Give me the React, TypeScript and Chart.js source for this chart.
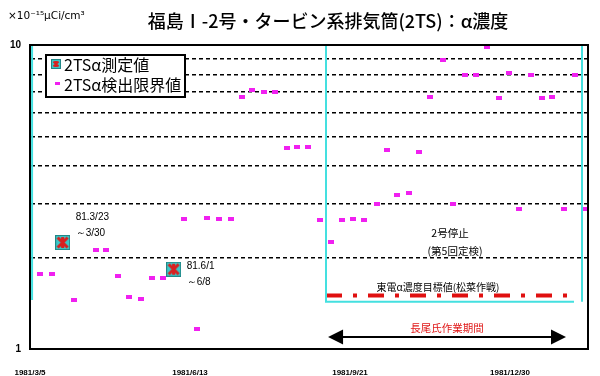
import React, { useEffect, useRef } from 'react';
import { Chart, registerables } from 'chart.js';

Chart.register(...registerables);

// x values: days since 1981/3/5
const X_TICK_DAYS = [0, 100, 200, 300];
const X_TICK_LABELS = ['1981/3/5', '1981/6/13', '1981/9/21', '1981/12/30'];
const X_MAX_DAY = 348.75;
const Y_MIN = 1;
const Y_MAX = 10;
const Y_GRID_VALUES = [1, 2, 3, 4, 5, 6, 7, 8, 9, 10];

// 2TSα検出限界値 (detection limit values)
const limitDays = [6, 14, 27.5, 41, 47.5, 55, 62, 69.5, 76, 83, 96.5, 104.5, 110.5, 118, 125.5, 132.5, 139, 146, 153, 160.5, 167, 174, 181, 188, 195, 202, 209, 217, 223, 229.5, 237, 243, 250, 258, 264.5, 272, 279, 285.5, 293, 299.5, 305.5, 313, 320, 326, 334, 340.5, 347.5];
const limitValues = [1.77, 1.77, 1.45, 2.12, 2.12, 1.74, 1.48, 1.46, 1.71, 1.71, 2.68, 1.16, 2.7, 2.68, 2.68, 6.75, 7.1, 7.0, 7.0, 4.58, 4.62, 4.62, 2.66, 2.25, 2.66, 2.68, 2.66, 3.0, 4.52, 3.21, 3.26, 4.45, 6.75, 8.93, 3.0, 7.97, 7.97, 9.85, 6.69, 8.09, 2.89, 7.97, 6.69, 6.75, 2.89, 7.97, 2.89];

// 2TSα測定値 (measured values)
const measuredDays = [20.4, 89.8];
const measuredValues = [2.24, 1.83];
const measuredNotes = [['81.3/23', '～3/30'], ['81.6/1', '～6/8']];

// 東電α濃度目標値
const targetValue = 1.5;
const targetDays = [185, 342.5];

// 2号停止 box
const stopBoxLeftDay = 185;
const stopBoxRightDay = 345;
const stopBoxBottomEndDay = 340;
const stopBoxBottomValue = 1.43;
const firstPeriodLineDay = 1.3;
const firstPeriodLineBottom = 1.45;

// 長尾氏作業期間 arrow
const workPeriodDays = [186.3, 335];
const workPeriodValue = 1.095;

const CYAN = '#44e0e0';
const MAGENTA = '#f020f0';
const JP = '"Noto Sans CJK JP", sans-serif';

function makeRect(w: number, h: number, color: string) {
  const c = document.createElement('canvas');
  c.width = w;
  c.height = h;
  const g = c.getContext('2d')!;
  g.fillStyle = color;
  g.fillRect(0, 0, w, h);
  return c;
}

function makeMeasured(s: number) {
  const c = document.createElement('canvas');
  c.width = s;
  c.height = s;
  const g = c.getContext('2d')!;
  g.fillStyle = '#3cc8c8';
  g.fillRect(0, 0, s, s);
  g.strokeStyle = '#208888';
  g.lineWidth = 1;
  g.strokeRect(0.5, 0.5, s - 1, s - 1);
  g.strokeStyle = '#d82020';
  g.lineWidth = Math.max(2, s / 5);
  g.beginPath();
  g.moveTo(2.5, 2.5);
  g.lineTo(s - 2.5, s - 2.5);
  g.moveTo(s - 2.5, 2.5);
  g.lineTo(2.5, s - 2.5);
  g.moveTo(s / 2, 2);
  g.lineTo(s / 2, s - 2);
  g.stroke();
  return c;
}

export default function App() {
  const ref = useRef<HTMLCanvasElement | null>(null);

  useEffect(() => {
    const canvas = ref.current;
    if (!canvas) return;
    const rectImg = makeRect(6, 4, MAGENTA);
    const measImg = makeMeasured(15);
    const measIcon = makeMeasured(10);
    const rectIcon = makeRect(5, 3, MAGENTA);

    const overlay = {
      id: 'overlay',
      afterDraw(chart: any) {
        const ctx = chart.ctx as CanvasRenderingContext2D;
        const xs = chart.scales.x;
        const ys = chart.scales.y;
        const { left, right, top, bottom } = chart.chartArea;
        ctx.save();
        // frame
        ctx.strokeStyle = '#000';
        ctx.lineWidth = 2;
        ctx.strokeRect(left, top, right - left, bottom - top);

        // title
        ctx.fillStyle = '#000';
        ctx.textBaseline = 'middle';
        ctx.textAlign = 'center';
        ctx.font = `500 18px ${JP}`;
        ctx.fillText('福島Ⅰ-2号・タービン系排気筒(2TS)：α濃度', 328, 21);

        // unit
        ctx.textAlign = 'left';
        ctx.font = '10.5px "DejaVu Sans", sans-serif';
        ctx.fillText('×10⁻¹⁵μCi/cm³', 8, 16);

        // measured notes
        ctx.font = '10px "Liberation Sans", Arial, sans-serif';
        const notePos = [[13, -25, -9], [13, -3, 13]];
        measuredDays.forEach((d, i) => {
          const px = xs.getPixelForValue(d);
          const py = ys.getPixelForValue(measuredValues[i]);
          const [dx, dy1, dy2] = notePos[i];
          ctx.fillText(measuredNotes[i][0], px + dx, py + dy1);
          ctx.fillText(measuredNotes[i][1], px + dx, py + dy2);
        });

        // stop box texts
        const bx = (xs.getPixelForValue(stopBoxLeftDay) + xs.getPixelForValue(stopBoxRightDay)) / 2;
        ctx.textAlign = 'center';
        ctx.font = `10.5px ${JP}`;
        ctx.fillText('2号停止', bx - 4, 233);
        ctx.fillText('(第5回定検)', bx + 1, 251);
        ctx.font = `10px ${JP}`;
        ctx.fillText('東電α濃度目標値(松菜作戦)', xs.getPixelForValue(targetDays[0]) + 112, ys.getPixelForValue(targetValue) - 8);

        // work period arrow
        const ax1 = xs.getPixelForValue(workPeriodDays[0]);
        const ax2 = xs.getPixelForValue(workPeriodDays[1]);
        const ay = ys.getPixelForValue(workPeriodValue);
        ctx.strokeStyle = '#000';
        ctx.fillStyle = '#000';
        ctx.lineWidth = 2;
        ctx.beginPath();
        ctx.moveTo(ax1 + 10, ay);
        ctx.lineTo(ax2 - 10, ay);
        ctx.stroke();
        ctx.beginPath();
        ctx.moveTo(ax1, ay);
        ctx.lineTo(ax1 + 15, ay - 7.5);
        ctx.lineTo(ax1 + 15, ay + 7.5);
        ctx.closePath();
        ctx.fill();
        ctx.beginPath();
        ctx.moveTo(ax2, ay);
        ctx.lineTo(ax2 - 15, ay - 7.5);
        ctx.lineTo(ax2 - 15, ay + 7.5);
        ctx.closePath();
        ctx.fill();
        ctx.fillStyle = '#e01818';
        ctx.font = `10.5px ${JP}`;
        ctx.fillText('長尾氏作業期間', (ax1 + ax2) / 2, ay - 9);

        // legend
        ctx.fillStyle = '#fff';
        ctx.fillRect(46, 55, 139, 42);
        ctx.strokeStyle = '#000';
        ctx.lineWidth = 2;
        ctx.strokeRect(46, 55, 139, 42);
        ctx.drawImage(measIcon, 51, 59);
        ctx.drawImage(rectIcon, 55, 82);
        ctx.fillStyle = '#000';
        ctx.textAlign = 'left';
        ctx.font = `16px ${JP}`;
        ctx.fillText('2TSα測定値', 64, 65);
        ctx.fillText('2TSα検出限界値', 64, 85);
        ctx.restore();
      },
    };

    const chart = new Chart(canvas, {
      type: 'scatter',
      data: {
        datasets: [
          {
            label: 'period1',
            data: [{ x: firstPeriodLineDay, y: Y_MAX }, { x: firstPeriodLineDay, y: firstPeriodLineBottom }],
            showLine: true, borderColor: CYAN, borderWidth: 2, pointRadius: 0,
          },
          {
            label: 'stopBox',
            data: [
              { x: stopBoxLeftDay, y: Y_MAX },
              { x: stopBoxLeftDay, y: stopBoxBottomValue },
              { x: stopBoxBottomEndDay, y: stopBoxBottomValue },
            ],
            showLine: true, borderColor: CYAN, borderWidth: 2, pointRadius: 0,
          },
          {
            label: 'stopBoxRight',
            data: [{ x: stopBoxRightDay, y: Y_MAX }, { x: stopBoxRightDay, y: stopBoxBottomValue }],
            showLine: true, borderColor: CYAN, borderWidth: 2, pointRadius: 0,
          },
          {
            label: '東電α濃度目標値',
            data: targetDays.map((d) => ({ x: d, y: targetValue })),
            showLine: true, borderColor: '#e01010', borderWidth: 4, borderDash: [16, 11, 4, 11], pointRadius: 0,
          },
          {
            label: '2TSα検出限界値',
            data: limitDays.map((d, i) => ({ x: d, y: limitValues[i] })),
            pointStyle: rectImg as any, pointRadius: 3,
          },
          {
            label: '2TSα測定値',
            data: measuredDays.map((d, i) => ({ x: d, y: measuredValues[i] })),
            pointStyle: measImg as any, pointRadius: 7,
          },
        ] as any,
      },
      options: {
        responsive: false,
        animation: false,
        layout: { padding: { top: 45, right: 12, left: 0, bottom: 0 } },
        plugins: { legend: { display: false }, tooltip: { enabled: false }, title: { display: false } },
        scales: {
          x: {
            type: 'linear',
            min: 0,
            max: X_MAX_DAY,
            afterFit: (s: any) => { s.height = 27; },
            afterBuildTicks: (s: any) => { s.ticks = X_TICK_DAYS.map((v) => ({ value: v })); },
            grid: { display: false },
            border: { color: '#000', width: 2 },
            ticks: {
              autoSkip: false,
              maxRotation: 0,
              padding: 11,
              color: '#000',
              font: { family: '"Liberation Sans", Arial, sans-serif', size: 8, weight: 'bold' },
              callback: (v: any) => {
                const i = X_TICK_DAYS.indexOf(Number(v));
                return i >= 0 ? X_TICK_LABELS[i] : '';
              },
            },
          },
          y: {
            type: 'logarithmic',
            min: Y_MIN,
            max: Y_MAX,
            afterFit: (s: any) => { s.width = 30; },
            afterBuildTicks: (s: any) => { s.ticks = Y_GRID_VALUES.map((v) => ({ value: v })); },
            grid: {
              drawTicks: false,
              lineWidth: 1.5,
              color: (c: any) => (c.tick && (c.tick.value === Y_MIN || c.tick.value === Y_MAX) ? 'rgba(0,0,0,0)' : '#000'),
            },
            border: { color: '#000', width: 2, dash: [4, 3] },
            ticks: {
              autoSkip: false,
              padding: 9,
              color: '#000',
              font: { family: '"Liberation Sans", Arial, sans-serif', size: 10, weight: 'bold' },
              callback: (v: any) => (Number(v) === Y_MIN ? '1' : Number(v) === Y_MAX ? '10' : ''),
            },
          },
        },
      } as any,
      plugins: [overlay],
    });
    return () => chart.destroy();
  }, []);

  return (
    <div style={{ position: 'absolute', left: 0, top: 0, width: 600, height: 376, background: '#fff' }}>
      <canvas ref={ref} width={600} height={376} style={{ display: 'block' }} />
    </div>
  );
}
